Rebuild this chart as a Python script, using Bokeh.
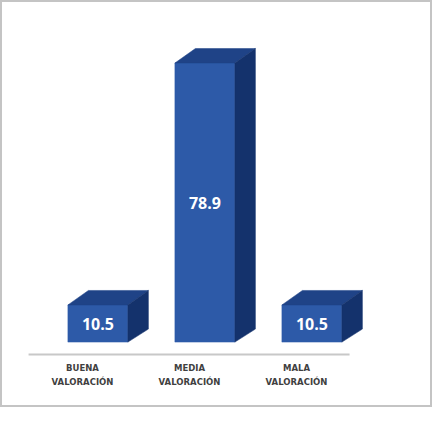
from bokeh.plotting import figure
from bokeh.models import Range1d, ColumnDataSource
from bokeh.core.properties import value
from bokeh.embed import file_html
from bokeh.resources import INLINE

categories = ["BUENA VALORACIÓN", "MEDIA VALORACIÓN", "MALA VALORACIÓN"]
values = [10.5, 78.9, 10.5]

W, H = 432, 407
PX_X = 107.0          # pixels per category step
PX_Y = 3.537          # pixels per value unit
x0 = -97.4 / PX_X
y_top = 341.6 / PX_Y

p = figure(width=W, height=H,
           x_range=Range1d(x0, x0 + W / PX_X),
           y_range=Range1d(y_top - H / PX_Y, y_top),
           output_backend="svg", toolbar_location=None,
           min_border=0, x_axis_type=None, y_axis_type=None)
p.outline_line_color = "#c4c4c4"
p.outline_line_width = 3
p.background_fill_color = "white"
p.border_fill_color = "white"

bw = 60 / PX_X
dx = 20.5 / PX_X
dy = 14.5 / PX_Y

xs = list(range(len(categories)))
front = ColumnDataSource(dict(left=[x - bw / 2 for x in xs],
                              right=[x + bw / 2 for x in xs],
                              top=values, bottom=[0] * len(xs)))
p.quad(left="left", right="right", top="top", bottom="bottom", source=front,
       fill_color="#2d5aa8", line_color="#2d5aa8", line_width=0.5)

top_xs, top_ys, side_xs, side_ys = [], [], [], []
for x, v in zip(xs, values):
    l, r = x - bw / 2, x + bw / 2
    top_xs.append([l, r, r + dx, l + dx])
    top_ys.append([v, v, v + dy, v + dy])
    side_xs.append([r, r + dx, r + dx, r])
    side_ys.append([0, dy * 0.9, v + dy, v])
p.patches(top_xs, top_ys, fill_color="#1f4387", line_color="#1f4387", line_width=0.5)
p.patches(side_xs, side_ys, fill_color="#14326c", line_color="#14326c", line_width=0.5)

# value labels
p.text(x=xs, y=[v / 2 for v in values], text=[f"{v:.1f}" for v in values],
       text_color="white", text_font=value("Open Sans"), text_font_style="bold",
       text_font_size="16px", text_align="center", text_baseline="middle")

# axis line
axis_y = y_top - 354.1 / PX_Y
p.segment(x0=[-0.648], y0=[axis_y], x1=[xs[-1] + 0.352], y1=[axis_y],
          line_color="#c8c8c8", line_width=2)

# category labels
lab_y = y_top - 374.5 / PX_Y
p.text(x=[x - 0.144 for x in xs], y=[lab_y] * len(xs),
       text=[c.replace(" ", "\n", 1) for c in categories],
       text_color="#404040", text_font=value("DejaVu Sans"), text_font_style="bold",
       text_font_size="8.5px", text_align="center", text_baseline="middle",
       text_line_height=1.45)

open("out.html", "w").write(file_html(p, INLINE))
